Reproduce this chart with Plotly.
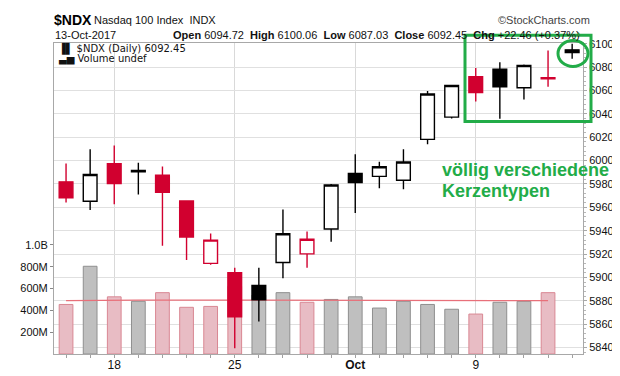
import plotly.graph_objects as go

# ---------------- data ----------------
dates = ["2017-09-14", "2017-09-15", "2017-09-18", "2017-09-19", "2017-09-20",
         "2017-09-21", "2017-09-22", "2017-09-25", "2017-09-26", "2017-09-27",
         "2017-09-28", "2017-09-29", "2017-10-02", "2017-10-03", "2017-10-04",
         "2017-10-05", "2017-10-06", "2017-10-09", "2017-10-10", "2017-10-11",
         "2017-10-12", "2017-10-13"]
opens = [5981.8, 5965.2, 5997.4, 5991.6, 5987.5, 5965.4, 5912.0, 5904.1, 5893.2, 5912.8,
         5920.2, 5941.5, 5988.9, 5986.5, 5983.2, 6018.1, 6037.2, 6071.8, 6078.1, 6062.3,
         6071.0, 6094.72]
highs = [5997.4, 6009.6, 6012.9, 5998.2, 5994.9, 5966.0, 5937.6, 5908.2, 5908.2, 5958.1,
         5939.3, 5979.9, 6005.5, 5999.0, 6009.6, 6059.6, 6064.6, 6079.2, 6084.1, 6082.2,
         6094.2, 6100.06]
lows = [5964.1, 5957.8, 5962.7, 5970.9, 5927.2, 5915.0, 5910.9, 5839.4, 5862.3, 5899.4,
        5908.2, 5930.5, 5955.1, 5976.3, 5975.5, 6014.0, 6036.1, 6050.6, 6035.8, 6052.2,
        6063.1, 6087.03]
closes = [5968.2, 5988.1, 5980.4, 5990.3, 5972.8, 5934.6, 5931.9, 5866.4, 5880.9, 5937.4,
          5932.7, 5979.1, 5981.2, 5994.7, 5998.8, 6056.9, 6064.2, 6058.2, 6063.1, 6081.4,
          6069.99, 6092.45]
prev_close_first = 5990.0
volume_m = [454, 804, 524, 483, 562, 428, 436, 620, 540, 562, 474, 500, 524, 421, 483,
            454, 410, 366, 474, 483, 562, None]
volume_ma_m = [489, 492, 493, 493, 494, 494, 494, 494, 494, 495, 495, 495, 496, 495, 494,
               494, 493, 491, 490, 489, 489, None]

x_tick_dates = ["2017-09-18", "2017-09-25", "2017-10-02", "2017-10-09"]
x_tick_text = ["18", "25", "<b>Oct</b>", "9"]
vol_tick_vals = [200e6, 400e6, 600e6, 800e6, 1e9]
vol_tick_text = ["200M", "400M", "600M", "800M", "1.0B"]

# ---------------- styling ----------------
RED = "#d1002f"
BLACK = "#000000"
GREEN = "#22ac48"
FONT = "Liberation Sans, Arial, sans-serif"

xpos = list(range(len(dates)))
prev = [prev_close_first] + closes[:-1]

groups = {}
for i in xpos:
    up_day = closes[i] > prev[i]
    hollow = closes[i] > opens[i]
    key = ("black" if up_day else "red", "hollow" if hollow else "filled")
    groups.setdefault(key, []).append(i)

fig = go.Figure()

# volume bars (left axis, drawn underneath)
vol_colors, vol_lines = [], []
for i in xpos:
    if closes[i] > prev[i]:
        vol_colors.append("#bfbfbf"); vol_lines.append("#8f8f8f")
    else:
        vol_colors.append("#e8bcc4"); vol_lines.append("#d98793")
fig.add_trace(go.Bar(
    x=xpos, y=[v * 1e6 if v is not None else None for v in volume_m],
    width=0.57, marker=dict(color=vol_colors, line=dict(color=vol_lines, width=1)),
    yaxis="y", showlegend=False, hoverinfo="skip"))
fig.add_trace(go.Scatter(
    x=xpos, y=[v * 1e6 if v is not None else None for v in volume_ma_m],
    mode="lines", line=dict(color="#e8707a", width=1.2), yaxis="y",
    showlegend=False, hoverinfo="skip"))

# candles (right price axis, overlaid on top)
for (col, fill), idx in groups.items():
    c = BLACK if col == "black" else RED
    fc = "#ffffff" if fill == "hollow" else c
    style = dict(line=dict(color=c, width=1.4), fillcolor=fc)
    fig.add_trace(go.Candlestick(
        x=[xpos[i] for i in idx],
        open=[opens[i] for i in idx], high=[highs[i] for i in idx],
        low=[lows[i] for i in idx], close=[closes[i] for i in idx],
        increasing=style, decreasing=style, whiskerwidth=0,
        yaxis="y2", showlegend=False, hoverinfo="skip"))

L, R, T, B = 46, 45, 35, 16
W, H = 620, 376
pw, ph = W - L - R, H - T - B


def px(x):
    return (x - L) / pw


def py(y):
    return (H - B - y) / ph


fig.update_layout(
    width=W, height=H,
    margin=dict(l=L, r=R, t=T, b=B, pad=0),
    paper_bgcolor="white", plot_bgcolor="white",
    font=dict(family=FONT, size=11, color="#111"),
    boxgap=0.43, boxgroupgap=0, boxmode="overlay",
    showlegend=False,
    xaxis=dict(
        range=[-0.5, 21.45], tickvals=[dates.index(d) for d in x_tick_dates],
        ticktext=x_tick_text, showgrid=True, gridcolor="#d9d9d9", gridwidth=1,
        ticks="", zeroline=False, showline=True, linecolor="#a8a8a8", mirror=True,
        rangeslider=dict(visible=False), fixedrange=True,
        minor=dict(dtick=1, tick0=0, ticks="outside", ticklen=3, tickcolor="#a0a0a0",
                   showgrid=False),
        tickfont=dict(size=12, color="#111"),
    ),
    yaxis=dict(
        side="left", range=[0, 2.85e9], tickvals=vol_tick_vals, ticktext=vol_tick_text,
        showgrid=False, zeroline=False, ticks="outside", ticklen=3, tickcolor="#888",
        showline=True, linecolor="#a8a8a8", tickfont=dict(size=11, color="#111"),
    ),
    yaxis2=dict(
        overlaying="y", side="right", range=[5834.5, 6100.6], dtick=20, tick0=0,
        showgrid=True, gridcolor="#e0e0e0", zeroline=False, ticks="outside", ticklen=3,
        tickcolor="#a8a8a8", showline=True, linecolor="#a8a8a8",
        minor=dict(dtick=4, ticks="outside", ticklen=2, tickcolor="#b8b8b8", showgrid=False),
        tickfont=dict(size=11, color="#111"),
    ),
)

ann = [
    dict(x=px(44), y=py(10.5), text="<b>$NDX</b>", font=dict(size=14, color="#000")),
    dict(x=px(84), y=py(11), text="Nasdaq 100 Index  INDX", font=dict(size=11, color="#111")),
    dict(x=px(488), y=py(10.5), text="\u00a9StockCharts.com", font=dict(size=11, color="#444")),
    dict(x=px(45), y=py(26.5), text="13-Oct-2017", font=dict(size=11, color="#111")),
    dict(x=px(163), y=py(26.5),
         text="<b>Open</b> 6094.72  <b>High</b> 6100.06  <b>Low</b> 6087.03  "
              "<b>Close</b> 6092.45  <b>Chg</b> +22.46 (+0.37%)",
         font=dict(size=11, color="#111")),
    dict(x=px(565), y=py(25), text="\u25b2", font=dict(size=7, color="#2a8a3a")),
    dict(x=px(48), y=py(41), text="\u2590\u258c $NDX (Daily) 6092.45",
         font=dict(family="DejaVu Sans", size=10, color="#111")),
    dict(x=px(48), y=py(51.5), text="\u2583\u2585 Volume undef",
         font=dict(family="DejaVu Sans", size=10, color="#111")),
    dict(x=px(432), y=py(168), text="<b>völlig verschiedene</b>",
         font=dict(size=18, color=GREEN)),
    dict(x=px(432), y=py(190), text="<b>Kerzentypen</b>", font=dict(size=18, color=GREEN)),
]
for a in ann:
    fig.add_annotation(xref="paper", yref="paper", xanchor="left", yanchor="middle",
                       showarrow=False, **a)

fig.add_shape(type="rect", xref="paper", yref="paper",
              x0=px(457), x1=px(583), y0=py(117), y1=py(27),
              line=dict(color=GREEN, width=3), layer="above")
fig.add_shape(type="circle", xref="paper", yref="paper",
              x0=px(550), x1=px(580), y0=py(59.5), y1=py(32.5),
              line=dict(color=GREEN, width=3), layer="above")

fig.write_html("out.html")
